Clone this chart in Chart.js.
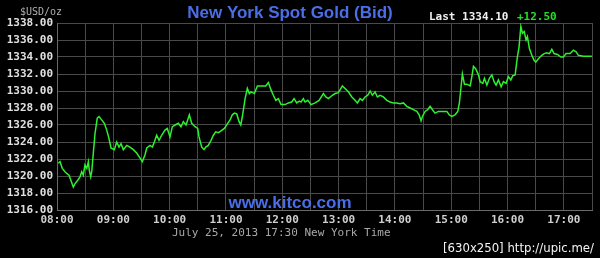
<!DOCTYPE html>
<html>
<head>
<meta charset="utf-8">
<script src="https://cdn.jsdelivr.net/npm/chart.js@4/dist/chart.umd.min.js"></script>
<style>
html,body{margin:0;padding:0;background:#000;}
#c{display:block;}
</style>
</head>
<body>
<canvas id="c" width="600" height="258"></canvas>
<script>
// minutes after 08:00 (New York time)
const minutes = [1.4,3.2,5.6,8.5,10.3,12.8,17.4,19.2,22.1,24.5,26.3,28.0,29.8,31.7,33.4,34.4,35.9,37.0,38.7,40.5,42.9,44.8,47.6,50.4,53.0,55.4,57.5,61.1,63.6,66.1,68.2,70.7,74.3,77.8,81.3,84.9,88.5,90.9,93.8,95.6,99.1,101.6,103.7,106.2,108.7,111.6,115.1,117.5,120.4,122.9,125.8,129.3,132.1,134.6,137.5,141.0,143.5,147.1,149.9,151.3,154.2,156.7,158.5,161.2,164.1,166.6,169.1,171.9,174.8,178.3,181.9,184.4,186.8,189.0,191.5,194.0,195.8,197.5,200.4,202.8,204.9,206.7,210.3,213.5,218.2,222.4,225.2,228.1,230.5,233.1,235.8,238.7,243.0,246.5,250.1,252.6,255.4,258.2,260.0,262.5,264.3,267.2,270.7,275.0,279.2,283.8,286.4,289.1,293.4,296.3,299.8,304.1,306.9,310.4,314.1,317.6,320.1,322.9,325.4,328.2,331.1,333.6,336.0,338.9,341.3,344.2,347.7,351.4,354.9,358.4,362.0,365.5,369.1,372.7,376.2,379.7,383.3,385.8,387.9,389.3,392.2,395.0,397.5,400.0,402.8,406.4,410.6,415.3,417.8,420.6,424.1,427.0,428.7,430.5,431.9,434.1,436.6,440.2,442.0,443.7,446.2,449.0,450.8,453.7,455.4,458.0,460.7,463.3,465.7,467.8,470.3,473.2,475.6,478.5,480.9,483.5,485.6,488.1,490.5,492.3,494.2,495.9,497.7,499.8,501.2,503.3,505.9,508.3,510.1,512.9,516.5,519.0,521.9,524.6,527.2,529.6,533.2,536.8,539.6,542.4,546.7,550.2,553.1,555.5,560.8,569.8];
const prices = [1321.5,1321.7,1320.9,1320.5,1320.3,1320.1,1318.7,1319.1,1319.5,1319.9,1320.5,1320.1,1321.3,1320.9,1321.7,1320.7,1319.9,1320.5,1322.7,1325.0,1326.8,1327.0,1326.6,1326.2,1325.4,1324.4,1323.3,1323.1,1324.0,1323.4,1323.8,1323.1,1323.6,1323.4,1323.1,1322.7,1322.1,1321.7,1322.5,1323.3,1323.6,1323.4,1324.0,1324.8,1324.2,1324.8,1325.4,1325.6,1324.6,1325.8,1326.0,1326.2,1325.8,1326.4,1326.0,1327.2,1326.2,1325.8,1325.6,1324.6,1323.4,1323.1,1323.4,1323.6,1324.2,1324.8,1325.2,1325.1,1325.3,1325.6,1326.2,1326.6,1327.2,1327.4,1327.3,1326.4,1326.0,1327.0,1329.1,1330.3,1329.7,1329.9,1329.7,1330.6,1330.6,1330.6,1331.0,1330.1,1329.5,1328.9,1329.1,1328.4,1328.4,1328.6,1328.7,1329.1,1328.6,1328.8,1328.7,1329.1,1328.7,1328.9,1328.4,1328.6,1328.9,1329.7,1329.3,1329.1,1329.5,1329.7,1329.8,1330.6,1330.3,1329.9,1329.3,1328.9,1328.6,1329.1,1328.9,1329.3,1329.5,1330.0,1329.5,1329.9,1329.3,1329.5,1329.3,1328.9,1328.7,1328.6,1328.6,1328.5,1328.6,1328.2,1328.0,1327.8,1327.6,1327.2,1326.5,1327.0,1327.6,1327.8,1328.2,1327.8,1327.4,1327.6,1327.6,1327.6,1327.2,1327.0,1327.2,1327.6,1328.6,1330.5,1332.0,1330.8,1330.8,1330.6,1331.7,1332.9,1332.6,1331.9,1331.1,1330.9,1331.5,1330.7,1331.5,1331.9,1331.1,1330.7,1331.3,1330.5,1331.1,1330.9,1331.7,1331.3,1331.8,1331.9,1334.0,1335.2,1337.6,1336.8,1337.0,1336.0,1336.4,1335.0,1334.2,1333.6,1333.4,1333.8,1334.2,1334.4,1334.5,1334.4,1334.9,1334.4,1334.3,1334.0,1334.0,1334.4,1334.4,1334.8,1334.6,1334.2,1334.1,1334.1];
const hourLabels = ["08:00","09:00","10:00","11:00","12:00","13:00","14:00","15:00","16:00","17:00"];
const yMin = 1316, yMax = 1338, yStep = 2;
const xMax = 570, xStep = 30;
const titleText = "New York Spot Gold (Bid)";
const unitText = "$USD/oz";
const lastText = "Last 1334.10";
const changeText = "+12.50";
const siteText = "www.kitco.com";
const dateText = "July 25, 2013 17:30 New York Time";
const stampText = "[630x250] http://upic.me/";

const points = minutes.map((m, i) => ({x: m, y: prices[i]}));
const mono = "'DejaVu Sans Mono', monospace";

const overlay = {
  id: 'overlay',
  beforeDraw(chart) {
    const ctx = chart.ctx;
    ctx.save();
    ctx.fillStyle = '#000';
    ctx.fillRect(0, 0, chart.width, chart.height);
    ctx.restore();
  },
  afterDraw(chart) {
    const ctx = chart.ctx;
    ctx.save();
    ctx.textBaseline = 'alphabetic';
    ctx.textAlign = 'left';
    ctx.fillStyle = '#b0b0b0';
    ctx.font = "10px " + mono;
    ctx.fillText(unitText, 20, 15);
    ctx.fillStyle = '#4a6ee8';
    ctx.font = "bold 17px 'Liberation Sans', Arial, sans-serif";
    ctx.textAlign = 'center';
    ctx.fillText(titleText, 290, 18);
    ctx.fillText(siteText, 290, 208);
    ctx.textAlign = 'left';
    ctx.font = "bold 11px " + mono;
    ctx.fillStyle = '#f0f0f0';
    ctx.fillText(lastText, 429, 20);
    ctx.fillStyle = '#22e022';
    ctx.fillText(changeText, 517, 20);
    ctx.font = "11px " + mono;
    ctx.fillStyle = '#a8a8a8';
    ctx.fillText(dateText, 172, 236);
    ctx.font = "13px 'DejaVu Sans Condensed', 'Liberation Sans Narrow', sans-serif";
    ctx.fillStyle = '#f4f4f4';
    ctx.textAlign = 'right';
    ctx.fillText(stampText, 594, 252);
    ctx.restore();
  }
};

new Chart(document.getElementById('c'), {
  type: 'line',
  data: {
    datasets: [{
      data: points,
      borderColor: '#2ef02e',
      borderWidth: 1.5,
      pointRadius: 0,
      tension: 0,
      fill: false
    }]
  },
  options: {
    responsive: false,
    animation: false,
    events: [],
    layout: {padding: {top: 23, right: 8, left: 0, bottom: 0}},
    plugins: {legend: {display: false}, tooltip: {enabled: false}, title: {display: false}},
    scales: {
      x: {
        type: 'linear',
        min: 0, max: xMax,
        afterFit(s) { s.height = 48; },
        afterBuildTicks(s) {
          const t = [];
          for (let v = 0; v <= xMax; v += xStep) t.push({value: v});
          s.ticks = t;
        },
        ticks: {
          autoSkip: false, maxRotation: 0, minRotation: 0, padding: 4,
          color: '#cfcfcf',
          font: {family: mono, size: 11, weight: 'bold'},
          callback: (v) => (v % 60 === 0 ? hourLabels[v / 60] : '')
        },
        grid: {color: '#4a4a4a', lineWidth: 1, drawTicks: false},
        border: {color: '#6a6a6a', width: 1}
      },
      y: {
        min: yMin, max: yMax,
        afterFit(s) { s.width = 57; },
        ticks: {
          stepSize: yStep, padding: 4,
          color: '#e0e0e0',
          font: {family: mono, size: 11, weight: 'bold'},
          callback: (v) => v.toFixed(2)
        },
        grid: {color: '#4a4a4a', lineWidth: 1, drawTicks: false},
        border: {color: '#6a6a6a', width: 1}
      }
    }
  },
  plugins: [overlay]
});
</script>
</body>
</html>
